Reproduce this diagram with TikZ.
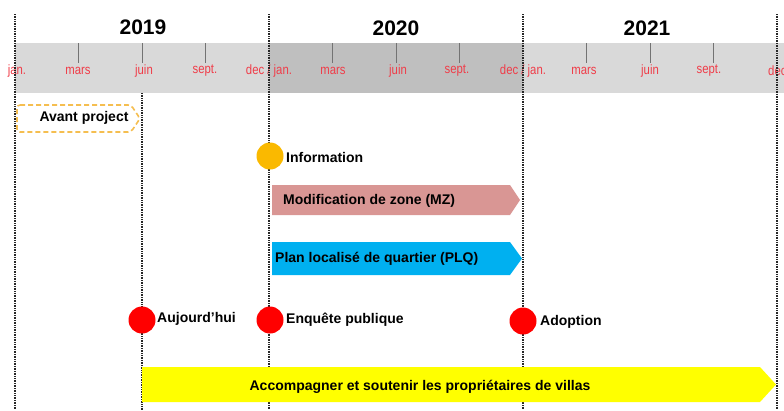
\documentclass[tikz,border=0pt]{standalone}
\usepackage{fontspec}
\setmainfont{Liberation Sans}
\newfontfamily\narrowmonth[FakeStretch=0.84]{Liberation Sans}
\definecolor{bandlight}{RGB}{217,217,217}
\definecolor{banddark}{RGB}{191,191,191}
\definecolor{monthred}{RGB}{240,60,72}
\definecolor{mzpink}{RGB}{217,150,148}
\definecolor{plqblue}{RGB}{0,176,240}
\definecolor{infoorange}{RGB}{250,185,0}
\definecolor{avorange}{RGB}{245,190,80}
\definecolor{redpt}{RGB}{255,0,0}
\definecolor{yellowbar}{RGB}{255,255,0}
\begin{document}
\begin{tikzpicture}[x=1pt,y=-1pt,
  vline/.style={line width=1.8pt, black!85, dash pattern=on 1pt off 0.7pt},
  tickline/.style={line width=0.9pt, black!55},
  month/.style={text=monthred, font=\narrowmonth\fontsize{13.5}{14}\selectfont, inner sep=0pt},
  year/.style={font=\bfseries\fontsize{21}{24}\selectfont, inner sep=0pt},
  lbl/.style={font=\bfseries\fontsize{14}{16}\selectfont, inner sep=0pt, anchor=west},
  dot/.style={circle, minimum size=27pt, inner sep=0pt},
]
\useasboundingbox (0,0) rectangle (784,410);
% band
\fill[bandlight] (15,43) rectangle (784,93);
\fill[banddark] (269,43) rectangle (523,93);
% ticks
\foreach \yr in {0,254,508}{
  \foreach \m in {63.5,127,190.5}{
    \draw[tickline] ({15+\yr+\m},43) -- ++(0,20);
  }
}
% years
\node[year] (y2019) at (143,27) {2019};
\node[year] (y2020) at (396,28) {2020};
\node[year] (y2021) at (647,28) {2021};
% months
\node[month] (m1) at (17,71) {jan.};
\node[month] (m2) at (78,71) {mars};
\node[month] (m3) at (144,71) {juin};
\node[month] (m4) at (205,71) {sept.};
\node[month] (m5) at (269,71) {dec / jan.};
\node[month] (m6) at (333,71) {mars};
\node[month] (m7) at (398,71) {juin};
\node[month] (m8) at (457,71) {sept.};
\node[month] (m9) at (523,71) {dec / jan.};
\node[month] (m10) at (584,71) {mars};
\node[month] (m11) at (650,71) {juin};
\node[month] (m12) at (709,71) {sept.};
\node[month, anchor=west] (m13) at (768,71) {dec};
% vertical dotted lines
\coordinate (l1t) at (15,14);  \coordinate (l1b) at (15,410);
\coordinate (l2t) at (142,93); \coordinate (l2b) at (142,410);
\coordinate (l3t) at (269,14); \coordinate (l3b) at (269,410);
\coordinate (l4t) at (523,14); \coordinate (l4b) at (523,410);
\coordinate (l5t) at (777,14); \coordinate (l5b) at (777,410);
\draw[vline] (l1t) -- (l1b);
\draw[vline, line width=1.4pt] (l2t) -- (l2b);
\draw[vline] (l3t) -- (l3b);
\draw[vline] (l4t) -- (l4b);
\draw[vline] (l5t) -- (l5b);
% avant project
\draw[avorange, line width=1.6pt, dash pattern=on 5pt off 3pt, fill=white, rounded corners=3pt]
  (17,105) -- (131,105) -- (140,118.5) -- (131,132) -- (17,132) -- cycle;
\node[lbl, anchor=center] (avant) at (84,118) {Avant project};
% MZ arrow
\fill[mzpink] (272,185) -- (510,185) -- (520,200) -- (510,215) -- (272,215) -- cycle;
\node[lbl] (mz) at (283,201) {Modification de zone (MZ)};
% PLQ arrow
\fill[plqblue] (272,242) -- (510,242) -- (522,258.5) -- (510,275) -- (272,275) -- cycle;
\node[lbl] (plq) at (275,259) {Plan localisé de quartier (PLQ)};
% yellow arrow
\fill[yellowbar] (142,367) -- (760,367) -- (776,384.5) -- (760,402) -- (142,402) -- cycle;
\node[lbl, anchor=center] (accomp) at (420,387) {Accompagner et soutenir les propriétaires de villas};
% milestones
\node[dot, fill=infoorange] (info) at (270,156) {};
\node[lbl] (infot) at (286,157) {Information};
\node[dot, fill=redpt] (auj) at (142,320) {};
\node[lbl] (aujt) at (157,319) {Aujourd'hui};
\node[dot, fill=redpt] (enq) at (270,320) {};
\node[lbl] (enqt) at (286,320) {Enquête publique};
\node[dot, fill=redpt] (adop) at (523,321) {};
\node[lbl] (adopt) at (540,322) {Adoption};
\end{tikzpicture}
\end{document}
